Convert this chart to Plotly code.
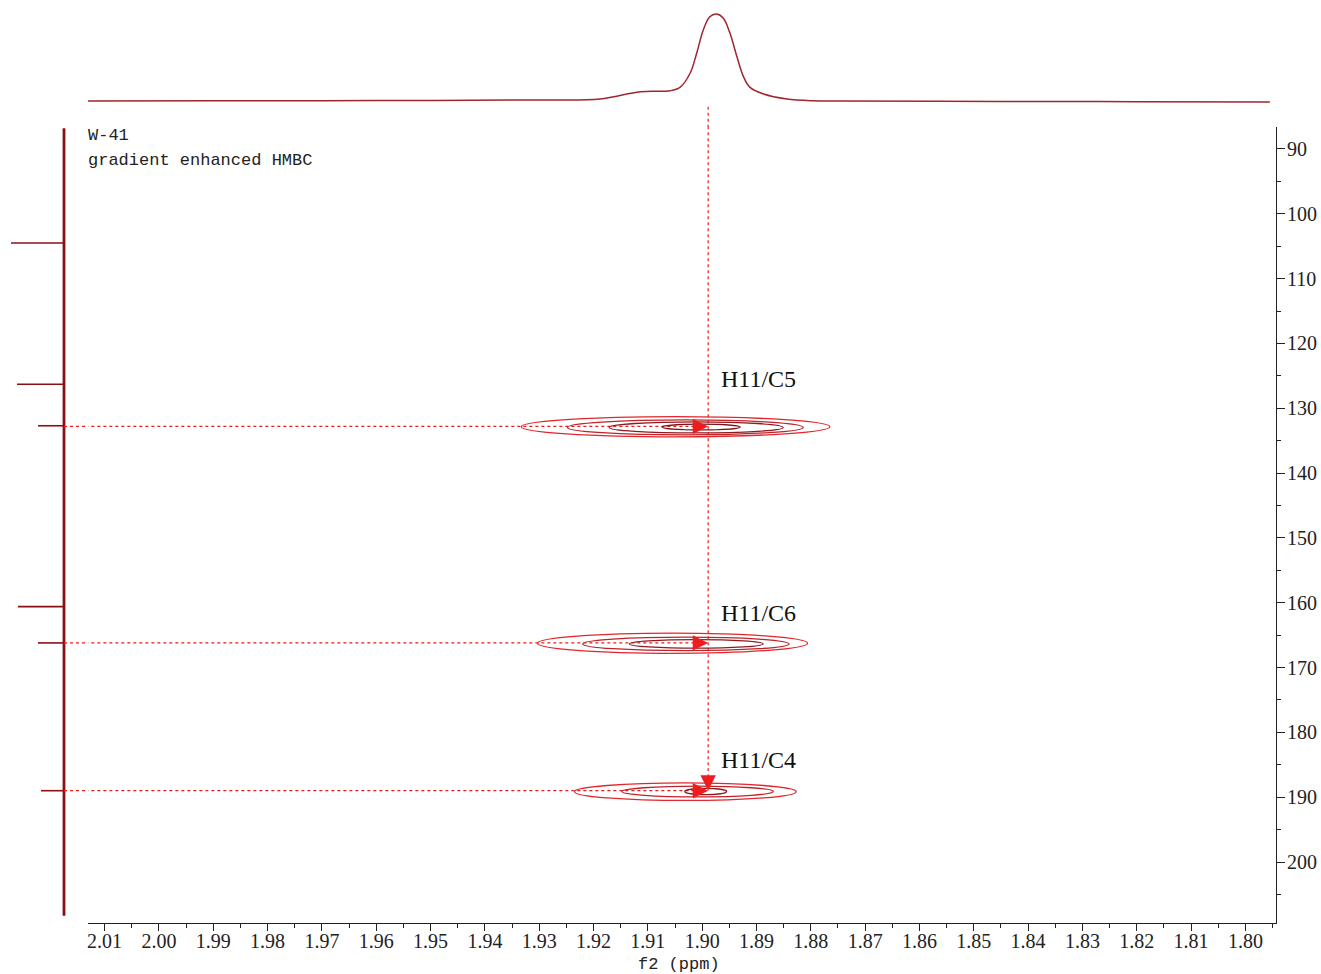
import plotly.graph_objects as go

# ---- F2 (1H) projection on top: chemical shift (ppm) and relative intensity
f2_ppm = [2.0131, 1.990, 1.960, 1.930, 1.9188, 1.9114, 1.9059, 1.9041, 1.9022,
          1.9010, 1.8998, 1.8986, 1.8973, 1.8961, 1.8949, 1.8936, 1.8924,
          1.8912, 1.8887, 1.8844, 1.8796, 1.8746, 1.845, 1.820, 1.7955]
f2_int = [0, 0.2, 0.5, 1.2, 2.3, 10.7, 11.8, 15.7, 32.2, 55.2, 81.6, 96.9,
          100, 95.1, 78.2, 50.9, 28.0, 15.7, 8.0, 2.3, 0.3, 0, -0.5, -0.8, -1.1]

# ---- F1 (13C) projection on the left: peak positions (ppm) and heights
f1_limits = [86.8, 208.3]
f1_peak_ppm = [104.5, 126.3, 132.7, 160.6, 166.2, 189.0]
f1_peak_int = [53, 47, 26, 46, 26, 23]

# ---- HMBC cross peaks: H11 correlations
cross_labels = ["H11/C5", "H11/C6", "H11/C4"]
cross_f2 = [1.8989, 1.8989, 1.8989]
cross_f1 = [132.8, 166.2, 189.0]
label_f1 = [125.5, 161.6, 184.3]

# contour rings of each cross peak, outer -> inner: (f2 left, f2 right), (f1 top, f1 bottom)
ring_f2 = [
    [(1.9333, 1.8765), (1.9248, 1.8814), (1.9171, 1.8851), (1.9074, 1.8930)],
    [(1.9303, 1.8806), (1.9220, 1.8840), (1.9134, 1.8888)],
    [(1.9235, 1.8827), (1.9148, 1.8869), (1.9032, 1.8955)],
]
ring_f1 = [
    [(131.3, 134.4), (131.8, 134.1), (132.1, 133.8), (132.45, 133.35)],
    [(164.7, 167.8), (165.3, 167.4), (165.7, 167.0)],
    [(187.8, 190.5), (188.3, 189.95), (188.65, 189.6)],
]
level_colors = ["#e3262b", "#c0232a", "#8e1b20", "#7a161b"]

SPEC_TOP = "#a0262d"
SPEC_LEFT = "#8a1016"
GUIDE = "#ee1c1c"

W, H = 1321, 974
def px_x(p):
    return p / W
def px_y(p):
    return (H - p) / H

fig = go.Figure()

# top 1D spectrum
fig.add_trace(go.Scatter(x=f2_ppm, y=f2_int, xaxis="x", yaxis="y3", mode="lines",
                         line=dict(color=SPEC_TOP, width=1.5, shape="spline", smoothing=1.0),
                         hoverinfo="skip", showlegend=False))

# left projection: baseline and peaks
fig.add_trace(go.Scatter(x=[0, 0], y=f1_limits, xaxis="x2", yaxis="y", mode="lines",
                         line=dict(color=SPEC_LEFT, width=2.8), hoverinfo="skip", showlegend=False))
px_, py_ = [], []
for p, h in zip(f1_peak_ppm, f1_peak_int):
    px_ += [0, h, None]
    py_ += [p, p, None]
fig.add_trace(go.Scatter(x=px_, y=py_, xaxis="x2", yaxis="y", mode="lines",
                         line=dict(color=SPEC_LEFT, width=1.6), hoverinfo="skip", showlegend=False))

# contour rings
shapes = []
for rx, ry in zip(ring_f2, ring_f1):
    for k, ((xa, xb), (ya, yb)) in enumerate(zip(rx, ry)):
        shapes.append(dict(type="circle", xref="x", yref="y", x0=xa, x1=xb, y0=ya, y1=yb,
                           line=dict(color=level_colors[k], width=1.3)))

# dotted guide lines from the 13C projection to each cross peak
for xf2, yf1 in zip(cross_f2, cross_f1):
    fig.add_trace(go.Scatter(x=[0, -40], y=[yf1, yf1], xaxis="x2", yaxis="y", mode="lines",
                             line=dict(color=GUIDE, width=1.2, dash="dot"),
                             hoverinfo="skip", showlegend=False))
    fig.add_trace(go.Scatter(x=[2.05, xf2], y=[yf1, yf1], xaxis="x", yaxis="y", mode="lines",
                             line=dict(color=GUIDE, width=1.2, dash="dot"),
                             hoverinfo="skip", showlegend=False))

# vertical guide from the 1H spectrum down to the last cross peak
xv = cross_f2[0]
fig.add_trace(go.Scatter(x=[xv, xv], y=[-6.6, -40], xaxis="x", yaxis="y3", mode="lines",
                         line=dict(color=GUIDE, width=1.2, dash="dot"),
                         hoverinfo="skip", showlegend=False))
fig.add_trace(go.Scatter(x=[xv, xv], y=[80, max(cross_f1)], xaxis="x", yaxis="y", mode="lines",
                         line=dict(color=GUIDE, width=1.2, dash="dot"),
                         hoverinfo="skip", showlegend=False))

annotations = []
# arrow heads
for xf2, yf1 in zip(cross_f2, cross_f1):
    annotations.append(dict(x=xf2, y=yf1, xref="x", yref="y", text="", showarrow=True,
                            ax=-16, ay=0, arrowhead=2, arrowsize=2.2, arrowwidth=1.4,
                            arrowcolor=GUIDE, standoff=0))
annotations.append(dict(x=xv, y=max(cross_f1), xref="x", yref="y", text="", showarrow=True,
                        ax=0, ay=-16, arrowhead=2, arrowsize=2.2, arrowwidth=1.4,
                        arrowcolor=GUIDE, standoff=0))
# cross peak labels
for lab, xf2, yl in zip(cross_labels, cross_f2, label_f1):
    annotations.append(dict(x=xf2, y=yl, xref="x", yref="y", text=lab, showarrow=False,
                            xanchor="left", yanchor="middle", xshift=11,
                            font=dict(family="Liberation Serif", size=24, color="#111111")))
# experiment info
annotations.append(dict(x=px_x(86), y=px_y(136), xref="paper", yref="paper", text="W-41",
                        showarrow=False, xanchor="left", yanchor="middle",
                        font=dict(family="Liberation Mono", size=17, color="#222222")))
annotations.append(dict(x=px_x(86), y=px_y(160), xref="paper", yref="paper",
                        text="gradient enhanced HMBC", showarrow=False,
                        xanchor="left", yanchor="middle",
                        font=dict(family="Liberation Mono", size=17, color="#222222")))
# f2 axis title
annotations.append(dict(x=px_x(679), y=px_y(964), xref="paper", yref="paper", text="f2 (ppm)",
                        showarrow=False, xanchor="center", yanchor="middle",
                        font=dict(family="Liberation Mono", size=17, color="#222222")))

x_dom = [px_x(88), px_x(1276)]
tick_font = dict(family="Liberation Serif", size=20, color="#222222")

fig.update_layout(
    width=W, height=H,
    margin=dict(l=0, r=0, t=0, b=0),
    paper_bgcolor="white", plot_bgcolor="white",
    showlegend=False,
    shapes=shapes,
    annotations=annotations,
    xaxis=dict(domain=x_dom, range=[2.01306, 1.79437], anchor="y",
               showline=True, linecolor="#222222", linewidth=1,
               ticks="outside", ticklen=7, tickcolor="#222222", tickwidth=1,
               ticklabelstandoff=-7,
               tickmode="linear", tick0=1.80, dtick=0.01, tickformat=".2f",
               minor=dict(ticks="outside", ticklen=4, dtick=0.005, tick0=1.80,
                          tickcolor="#222222"),
               showgrid=False, zeroline=False, tickfont=tick_font),
    yaxis=dict(domain=[px_y(923), px_y(127)], range=[209.41, 86.61], anchor="x",
               side="right", showline=True, linecolor="#222222", linewidth=1,
               ticks="outside", ticklen=8, tickcolor="#222222", tickwidth=1,
               ticklabelstandoff=-2,
               tickmode="linear", tick0=0, dtick=10,
               minor=dict(ticks="outside", ticklen=4, dtick=5, tick0=0, tickcolor="#222222"),
               showgrid=False, zeroline=False, tickfont=tick_font),
    xaxis2=dict(domain=[0, px_x(88)], range=[64, -24], anchor="y", visible=False,
                showgrid=False, zeroline=False),
    yaxis3=dict(domain=[px_y(127), 1.0], range=[-29.9, 116.1], anchor="x", visible=False,
                showgrid=False, zeroline=False),
)

fig.write_html("out.html")
